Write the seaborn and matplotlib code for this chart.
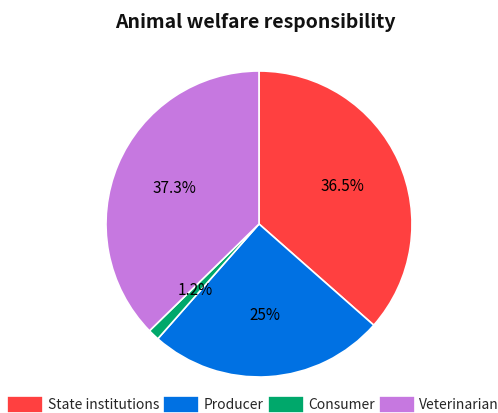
import matplotlib
matplotlib.use("Agg")
import matplotlib.pyplot as plt
import seaborn as sns

labels = ["State institutions", "Producer", "Consumer", "Veterinarian"]
values = [36.5, 25, 1.2, 37.3]
colors = ["#FF4040", "#0071E3", "#00A86B", "#C678E0"]

sns.set_theme(style="white")
plt.rcParams['font.family'] = ['Noto Sans CJK SC', 'DejaVu Sans']

fig = plt.figure(figsize=(4.98, 4.13), dpi=100)
ax = fig.add_axes([106 / 498, 36 / 413, 306 / 498, 306 / 413])

palette = sns.color_palette(colors)
wedges, texts, autotexts = ax.pie(
    values, colors=palette, startangle=90, counterclock=False,
    autopct=lambda p: f"{p:.1f}%".replace(".0%", "%"), pctdistance=0.6,
    wedgeprops=dict(edgecolor="white", linewidth=1.2),
    textprops=dict(fontsize=11, color="black"))
ax.set_aspect("equal")
ax.set_xlim(-1, 1)
ax.set_ylim(-1, 1)

fig.text(255 / 498, 1 - 22 / 413, "Animal welfare responsibility", fontsize=14,
         fontweight="bold", ha="center", va="center", color="#111111")

fig.legend(wedges, labels, loc="lower center", ncol=4, frameon=False,
           bbox_to_anchor=(253 / 498, -0.024), handlelength=2.6,
           handleheight=1.5, handletextpad=0.3, columnspacing=0.3,
           borderpad=0.2, prop=dict(size=10))

fig.savefig("out.png", dpi=100)
